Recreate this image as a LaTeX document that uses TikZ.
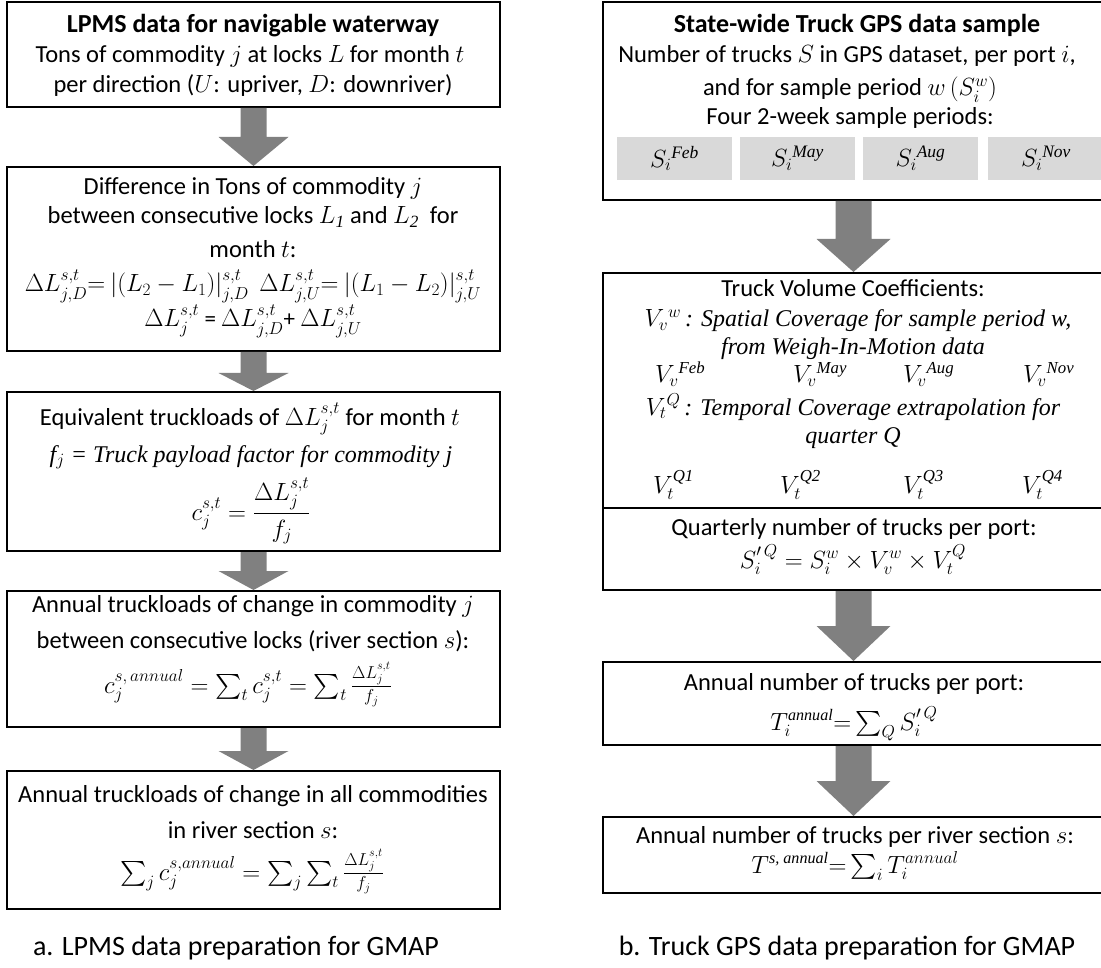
\documentclass[tikz,border=0pt]{standalone}
\usepackage{fontspec}
\usepackage{amsmath}
\setmainfont{Carlito}
\newfontfamily\tnr{Liberation Serif}
\usetikzlibrary{calc}
\definecolor{arrowgrey}{RGB}{128,128,128}
\definecolor{cellgrey}{RGB}{217,217,217}
\newcommand{\msz}{\fontsize{24.5}{30}\selectfont}
\newcommand{\tsz}{\fontsize{26}{32}\selectfont}
\newcommand{\fsz}{\fontsize{23}{28}\selectfont}
\newcommand{\isz}{\fontsize{24}{28}\selectfont}
\newcommand{\capsz}{\fontsize{28}{34}\selectfont}
\newcommand{\ti}[1]{\text{\tnr\itshape #1}}
\newcommand{\blockarr}[5]{%
  \fill[arrowgrey] let \p1=(#1.south), \p2=(#2.north) in
    (\x1-#3pt,\y1) -- (\x1+#3pt,\y1) -- (\x1+#3pt,\y2+#5pt) -- (\x1+#4pt,\y2+#5pt)
    -- (\x1,\y2) -- (\x1-#4pt,\y2+#5pt) -- (\x1-#3pt,\y2+#5pt) -- cycle;}
\begin{document}
\begin{tikzpicture}[x=1pt,y=-1pt,
  box/.style={draw=black, line width=2pt, inner sep=0pt},
  cell/.style={fill=cellgrey, inner sep=0pt, minimum width=115pt, minimum height=43pt, font=\fontsize{25}{30}\selectfont},
  txt/.style={anchor=base, inner sep=0pt, font=\msz},
  ttl/.style={anchor=base, inner sep=0pt, font=\tsz\bfseries},
  frm/.style={anchor=base, inner sep=0pt, font=\fsz},
  itx/.style={anchor=base, inner sep=0pt, font=\isz},
  frmw/.style={anchor=base west, inner sep=0pt, font=\fontsize{24}{28}\selectfont},
  captxt/.style={anchor=base, inner sep=0pt, font=\capsz}]
\useasboundingbox (0,0) rectangle (1101,968);
% ---------- left column boxes ----------
\node[box, minimum width=493pt, minimum height=105pt] (b1) at (253.5,54.5) {};
\node[box, minimum width=493pt, minimum height=184pt] (b2) at (253.5,259) {};
\node[box, minimum width=493pt, minimum height=159pt] (b3) at (253.5,471.5) {};
\node[box, minimum width=493pt, minimum height=136pt] (b4) at (253.5,659) {};
\node[box, minimum width=493pt, minimum height=138pt] (b5) at (253.5,840) {};
\blockarr{b1}{b2}{13}{35}{29}
\blockarr{b2}{b3}{13}{35}{18}
\blockarr{b3}{b4}{13}{35}{19}
\blockarr{b4}{b5}{13}{35}{19}
% box 1 text
\node[ttl] (b1t1) at (253,33) {LPMS data for navigable waterway};
\node[txt] (b1t2) at (250,63) {Tons of commodity $j$ at locks $L$ for month $t$};
\node[txt] (b1t3) at (253,93) {per direction ($U$: upriver, $D$: downriver)};
% box 2 text
\node[txt] (b2t1) at (253,195) {Difference in Tons of commodity $j$};
\node[txt] (b2t2) at (253,224) {between consecutive locks $L_{\ti{1}}$ and $L_{\ti{2}}$\ \ for};
\node[txt] (b2t3) at (253,258) {month $t$:};
\node[frm] (b2t4) at (253,292) {$\Delta L^{s,t}_{j,D}{=}\ |(L_2-L_1)|^{s,t}_{j,D}\ \ \Delta L^{s,t}_{j,U}{=}\ |(L_1-L_2)|^{s,t}_{j,U}$};
\node[frm] (b2t5) at (253,327) {$\Delta L^{s,t}_{j}$ = $\Delta L^{s,t}_{j,D}$+ $\Delta L^{s,t}_{j,U}$};
% box 3 text
\node[txt] (b3t1) at (250,425) {Equivalent truckloads of {\fsz$\Delta L^{s,t}_{j}$} for month $t$};
\node[itx] (b3t2) at (251,462) {\tnr\itshape f$_j$ = Truck payload factor for commodity j};
\node[frm] (b3t3) at (251,520) {$c^{s,t}_j = \dfrac{\Delta L^{s,t}_j}{f_j}$};
% box 4 text
\node[txt] (b4t1) at (253,612) {Annual truckloads of change in commodity $j$};
\node[txt] (b4t2) at (253,648) {between consecutive locks (river section $s$):};
\node[frm] (b4t3) at (248,693) {$c_j^{s,\,annual} = \textstyle\sum_t c^{s,t}_j = \sum_t \frac{\Delta L^{s,t}_j}{f_j}$};
% box 5 text
\node[txt] (b5t1) at (253,802) {Annual truckloads of change in all commodities};
\node[txt] (b5t2) at (253,838) {in river section $s$:};
\node[frm] (b5t3) at (252,880) {$\textstyle\sum_j c_j^{s,annual} = \sum_j \sum_t \frac{\Delta L^{s,t}_j}{f_j}$};
% caption a
\node[captxt] (capa) at (236,955) {a. LPMS data preparation for GMAP};
% ---------- right column boxes ----------
\node[box, minimum width=501pt, minimum height=198pt] (r1) at (853.5,101) {};
\node[box, minimum width=501pt, minimum height=235pt] (r2) at (853.5,390.5) {};
\node[box, minimum width=501pt, minimum height=82pt] (r3) at (853.5,549) {};
\node[box, minimum width=501pt, minimum height=83pt] (r4) at (853.5,703.5) {};
\node[box, minimum width=501pt, minimum height=76pt] (r5) at (853.5,855) {};
\blockarr{r1}{r2}{18}{37}{33}
\blockarr{r3}{r4}{18}{37}{35}
\blockarr{r4}{r5}{18}{37}{35}
% r1 text
\node[ttl] (r1t1) at (857,33) {State-wide Truck GPS data sample};
\node[txt] (r1t2) at (847,63) {Number of trucks $S$ in GPS dataset, per port $i$,};
\node[txt] (r1t3) at (850,96) {and for sample period $w\,(S_i^{w})$};
\node[txt] (r1t4) at (850,125) {Four 2-week sample periods:};
\node[cell] (c1) at (674.5,158.5) {$S_i{}^{\ti{Feb}}$};
\node[cell] (c2) at (797.5,158.5) {$S_i{}^{\ti{May}}$};
\node[cell] (c3) at (920.5,158.5) {$S_i{}^{\ti{Aug}}$};
\node[cell, minimum width=116pt] (c4) at (1046,158.5) {$S_i{}^{\ti{Nov}}$};
% r2 text
\node[txt] (r2t1) at (853,297) {Truck Volume Coefficients:};
\node[itx] (r2t2) at (858,327) {$V_v{}^{w}$\,{\tnr\itshape : Spatial Coverage for sample period w,}};
\node[itx] (r2t3) at (853,355) {\tnr\itshape from Weigh-In-Motion data};
\node[frmw] (v1) at (655,383) {$V_v{}^{\ti{Feb}}$};
\node[frmw] (v2) at (793,383) {$V_v{}^{\ti{May}}$};
\node[frmw] (v3) at (903,383) {$V_v{}^{\ti{Aug}}$};
\node[frmw] (v4) at (1023,383) {$V_v{}^{\ti{Nov}}$};
\node[itx] (r2t4) at (853,415) {$V_t{}^{Q}$\,{\tnr\itshape : Temporal Coverage extrapolation for}};
\node[itx] (r2t5) at (853,443) {\tnr\itshape quarter Q};
\node[frmw] (q1) at (653,493) {$V_t^{\ti{Q1}}$};
\node[frmw] (q2) at (780,493) {$V_t^{\ti{Q2}}$};
\node[frmw] (q3) at (903,493) {$V_t^{\ti{Q3}}$};
\node[frmw] (q4) at (1022,493) {$V_t^{\ti{Q4}}$};
% r3 text
\node[txt] (r3t1) at (854,535) {Quarterly number of trucks per port:};
\node[frm] (r3t2) at (853,568) {$S'^{\,Q}_{i} = S^{w}_{i} \times V^{w}_{v} \times V^{Q}_{t}$};
% r4 text
\node[txt] (r4t1) at (854,690) {Annual number of trucks per port:};
\node[frm] (r4t2) at (854,730) {$T_i^{\ti{annual}}{=}\textstyle\sum_Q S'^{\,Q}_{i}$};
% r5 text
\node[txt] (r5t1) at (855,843) {Annual number of trucks per river section $s$:};
\node[frm] (r5t2) at (855,873) {$T^{\ti{s, annual}}{=}\textstyle\sum_i T_i^{annual}$};
% caption b
\node[captxt] (capb) at (847,955) {b. Truck GPS data preparation for GMAP};
\end{tikzpicture}
\end{document}
